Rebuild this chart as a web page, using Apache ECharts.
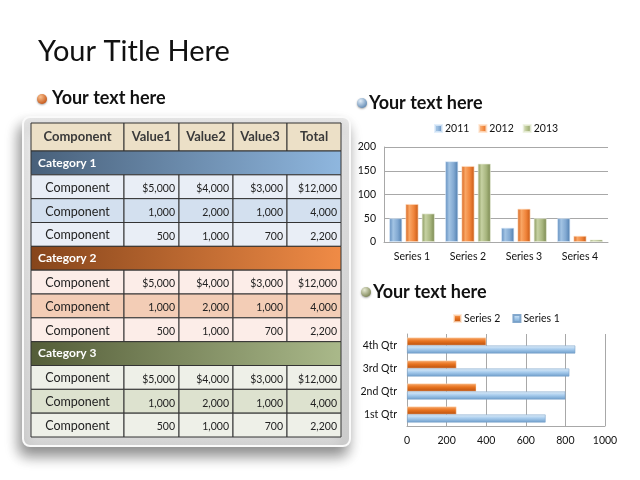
<!DOCTYPE html>
<html><head><meta charset="utf-8">
<script src="https://cdn.jsdelivr.net/npm/echarts@6/dist/echarts.min.js"></script>
<style>html,body{margin:0;padding:0;background:#fff}#c{width:640px;height:480px}</style>
</head><body><div id="c"></div>
<script>
// ---- data ----
const slideTitle = 'Your Title Here';
const subTitles = ['Your text here', 'Your text here', 'Your text here'];
const tableHeader = ['Component', 'Value1', 'Value2', 'Value3', 'Total'];
const tableCategories = ['Category 1', 'Category 2', 'Category 3'];
const rowLabels = ['Component', 'Component', 'Component'];
const rowValues1 = ['$5,000', '$4,000', '$3,000', '$12,000'];
const rowValues2 = ['1,000', '2,000', '1,000', '4,000'];
const rowValues3 = ['500', '1,000', '700', '2,200'];

const colCats = ['Series 1', 'Series 2', 'Series 3', 'Series 4'];
const colYears = ['2011', '2012', '2013'];
const v2011 = [50, 170, 30, 50];
const v2012 = [80, 160, 70, 13];
const v2013 = [60, 165, 50, 5];

const qtrs = ['1st Qtr', '2nd Qtr', '3rd Qtr', '4th Qtr'];
const hNames = ['Series 2', 'Series 1'];
const hSeries2 = [250, 350, 250, 400];
const hSeries1 = [700, 800, 820, 850];

// ---- styles ----
const FONT = 'Lato, "Open Sans", sans-serif';
function lg(x2, y2, stops) {
  return { type: 'linear', x: 0, y: 0, x2: x2, y2: y2, colorStops: stops.map((c) => ({ offset: c[0], color: c[1] })) };
}
const colColors = [
  lg(1, 0, [[0, '#5b89bb'], [0.3, '#a3c4e4'], [0.65, '#82a9d2'], [1, '#4d7cad']]),
  lg(1, 0, [[0, '#d5611a'], [0.3, '#f9a665'], [0.65, '#f0843a'], [1, '#c65815']]),
  lg(1, 0, [[0, '#87965c'], [0.3, '#c6d1a2'], [0.65, '#a8b67f'], [1, '#78874e']])
];
const hColors = [
  lg(0, 1, [[0, '#f8ab70'], [0.45, '#e8731f'], [1, '#b84f0e']]),
  lg(0, 1, [[0, '#e2eff9'], [0.45, '#a9cdee'], [1, '#6d9dca']])
];
function ball(x, y, r, light, dark) {
  return { type: 'circle', shape: { cx: x, cy: y, r: r },
    style: { fill: { type: 'radial', x: 0.35, y: 0.3, r: 0.8, colorStops: [{ offset: 0, color: light }, { offset: 1, color: dark }] },
      shadowBlur: 2, shadowColor: 'rgba(0,0,0,0.35)', shadowOffsetY: 1 } };
}

// ---- table layout ----
const colX = [31, 124, 179, 233, 287, 341];
const tableTop = 123, headH = 28, rowH = (437 - 151) / 12;
const headerFill = '#ece0c7';
const bandColors = [['#48607a', '#8fb7df'], ['#86451b', '#f08b46'], ['#545d38', '#aab98a']];
const rowFills = [['#e9eef6', '#d3e0ef', '#e9eef6'], ['#fcede8', '#f3cdb6', '#fcede8'], ['#eef0e8', '#dde2cf', '#eef0e8']];
const rowValueSets = [rowValues1, rowValues2, rowValues3];

const g = [];
// frame
g.push({ type: 'rect', shape: { x: 23, y: 117, width: 327, height: 329, r: 7 },
  style: { fill: lg(0, 1, [[0, '#ececec'], [1, '#d6d6d6']]), stroke: '#fafafa', lineWidth: 2,
    shadowBlur: 14, shadowColor: 'rgba(0,0,0,0.45)', shadowOffsetX: -3, shadowOffsetY: 9 } });
// header
for (let c = 0; c < 5; c++) {
  g.push({ type: 'rect', shape: { x: colX[c], y: tableTop, width: colX[c + 1] - colX[c], height: headH },
    style: { fill: headerFill, stroke: '#333', lineWidth: 1 } });
  g.push({ type: 'text', x: (colX[c] + colX[c + 1]) / 2, y: tableTop + headH / 2,
    style: { text: tableHeader[c], font: 'bold 13px ' + FONT, fill: '#3a3a3a', align: 'center', verticalAlign: 'middle' } });
}
let yy = tableTop + headH;
for (let k = 0; k < 3; k++) {
  g.push({ type: 'rect', shape: { x: colX[0], y: yy, width: colX[5] - colX[0], height: rowH },
    style: { fill: lg(1, 0, [[0, bandColors[k][0]], [1, bandColors[k][1]]]), stroke: '#333', lineWidth: 1 } });
  g.push({ type: 'text', x: colX[0] + 7, y: yy + rowH / 2,
    style: { text: tableCategories[k], font: 'bold 12px ' + FONT, fill: '#ffffff', align: 'left', verticalAlign: 'middle' } });
  yy += rowH;
  for (let r = 0; r < 3; r++) {
    for (let c = 0; c < 5; c++) {
      g.push({ type: 'rect', shape: { x: colX[c], y: yy, width: colX[c + 1] - colX[c], height: rowH },
        style: { fill: rowFills[k][r], stroke: '#333', lineWidth: 1 } });
    }
    g.push({ type: 'text', x: (colX[0] + colX[1]) / 2, y: yy + rowH / 2 + 1,
      style: { text: rowLabels[r], font: '12.5px ' + FONT, fill: '#222', align: 'center', verticalAlign: 'middle' } });
    for (let c = 0; c < 4; c++) {
      g.push({ type: 'text', x: colX[c + 2] - 4, y: yy + rowH / 2 + 2,
        style: { text: rowValueSets[r][c], font: '10.5px ' + FONT, fill: '#222', align: 'right', verticalAlign: 'middle' } });
    }
    yy += rowH;
  }
}
// titles
g.push({ type: 'text', x: 38, y: 52, style: { text: slideTitle, font: '29px ' + FONT, fill: '#111', verticalAlign: 'middle' } });
g.push(ball(42, 99, 5, '#f9c08e', '#c24f10'));
g.push({ type: 'text', x: 52, y: 98, style: { text: subTitles[0], font: 'bold 18px ' + FONT, fill: '#111', verticalAlign: 'middle' } });
g.push(ball(362, 103, 5, '#e3eef8', '#5883b0'));
g.push({ type: 'text', x: 369, y: 103, style: { text: subTitles[1], font: 'bold 18px ' + FONT, fill: '#111', verticalAlign: 'middle' } });
g.push(ball(366, 292, 5, '#e6e9d2', '#747d4c'));
g.push({ type: 'text', x: 373, y: 292, style: { text: subTitles[2], font: 'bold 18px ' + FONT, fill: '#111', verticalAlign: 'middle' } });

const chart = echarts.init(document.getElementById('c'), null, { renderer: 'canvas' });
const axisLabel = { color: '#111', fontFamily: FONT, fontSize: 10.5 };
const gridLine = { show: true, lineStyle: { color: '#a8a8a8', width: 1 } };
const axisLine = { show: true, lineStyle: { color: '#a8a8a8' } };

chart.setOption({
  animation: false,
  textStyle: { fontFamily: FONT },
  graphic: g,
  legend: [
    { data: colYears, top: 118, left: 429, itemWidth: 7, itemHeight: 7, itemGap: 9, icon: 'rect',
      textStyle: { fontFamily: FONT, fontSize: 10.5, color: '#111', padding: [0, 0, 0, -2] } },
    { data: hNames, top: 308, left: 448, itemWidth: 7, itemHeight: 7, itemGap: 12, icon: 'rect',
      textStyle: { fontFamily: FONT, fontSize: 10.5, color: '#111', padding: [0, 0, 0, -2] } }
  ],
  grid: [
    { left: 384, right: 32, top: 147, height: 95, containLabel: false },
    { left: 407, right: 35, top: 334, height: 92, containLabel: false }
  ],
  xAxis: [
    { type: 'category', gridIndex: 0, data: colCats, axisTick: { show: false }, axisLine: axisLine,
      axisLabel: Object.assign({ margin: 9 }, axisLabel) },
    { type: 'value', gridIndex: 1, min: 0, max: 1000, interval: 200, axisLine: axisLine, axisTick: { show: false },
      splitLine: gridLine, axisLabel: Object.assign({ margin: 9, formatter: (v) => String(v) }, axisLabel) }
  ],
  yAxis: [
    { type: 'value', gridIndex: 0, min: 0, max: 200, interval: 50, axisLine: axisLine, axisTick: { show: false },
      splitLine: gridLine, axisLabel: Object.assign({ margin: 8 }, axisLabel) },
    { type: 'category', gridIndex: 1, data: qtrs, axisTick: { show: false }, axisLine: axisLine,
      axisLabel: Object.assign({ margin: 10 }, axisLabel) }
  ],
  series: [
    { name: colYears[0], type: 'bar', xAxisIndex: 0, yAxisIndex: 0, data: v2011, barWidth: 13, barGap: '25%',
      itemStyle: { color: colColors[0], borderColor: 'rgba(220,235,250,0.8)', borderWidth: 0.8 } },
    { name: colYears[1], type: 'bar', xAxisIndex: 0, yAxisIndex: 0, data: v2012, barWidth: 13, barGap: '25%',
      itemStyle: { color: colColors[1], borderColor: 'rgba(255,225,200,0.8)', borderWidth: 0.8 } },
    { name: colYears[2], type: 'bar', xAxisIndex: 0, yAxisIndex: 0, data: v2013, barWidth: 13, barGap: '25%',
      itemStyle: { color: colColors[2], borderColor: 'rgba(235,240,220,0.8)', borderWidth: 0.8 } },
    { name: hNames[0], type: 'bar', xAxisIndex: 1, yAxisIndex: 1, data: hSeries2, barWidth: 8, barGap: '0%',
      itemStyle: { color: hColors[0], borderColor: 'rgba(255,225,200,0.7)', borderWidth: 0.6 } },
    { name: hNames[1], type: 'bar', xAxisIndex: 1, yAxisIndex: 1, data: hSeries1, barWidth: 8, barGap: '0%',
      itemStyle: { color: hColors[1], borderColor: 'rgba(120,160,200,0.9)', borderWidth: 0.6 } }
  ]
});
</script></body></html>
